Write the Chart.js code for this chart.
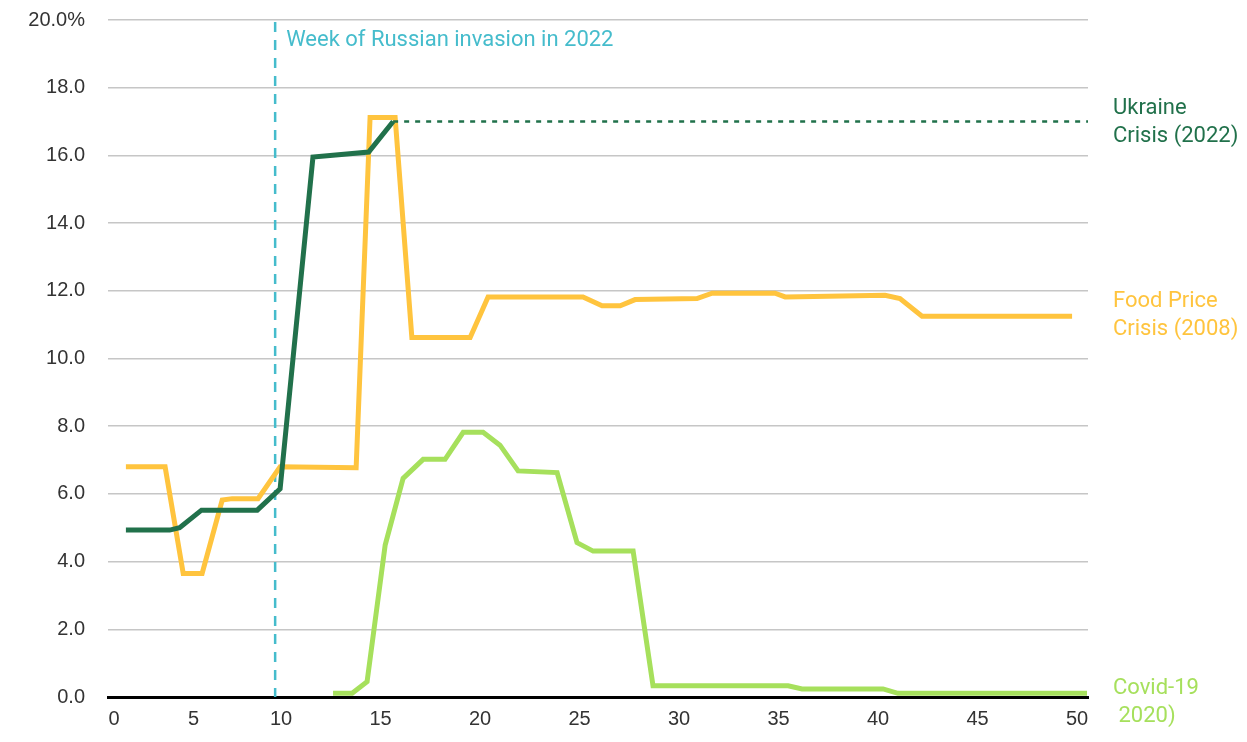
<!DOCTYPE html>
<html>
<head>
<meta charset="utf-8">
<title>Crisis comparison</title>
<script src="https://cdn.jsdelivr.net/npm/chart.js@4/dist/chart.umd.min.js"></script>
<style>
  html, body { margin: 0; padding: 0; background: #fff; }
  canvas { display: block; }
</style>
</head>
<body>
<canvas id="crisisChart" width="1247" height="742"></canvas>
<script>
// Weeks (x) and values (%)
const ukraineWeeks  = [2.2, 4.4, 4.9, 6.0, 8.8, 9.95, 11.6, 14.4, 15.63];
const ukraineValues = [4.93, 4.93, 5.0, 5.52, 5.52, 6.15, 15.95, 16.1, 17.0];

// Dotted continuation of the Ukraine line to the right edge
const ukraineTrendWeeks  = [15.63, 50.55];
const ukraineTrendValues = [17.0, 17.0];

const foodWeeks  = [2.2, 4.17, 5.08, 6.03, 7.04, 7.54, 8.84, 9.95, 13.77, 14.47, 15.73, 16.57, 19.5, 20.4, 25.17, 26.13, 27.04, 27.79, 30.9, 31.66, 34.82, 35.33, 40.35, 41.1, 42.21, 49.75];
const foodValues = [6.8, 6.8, 3.65, 3.65, 5.82, 5.86, 5.86, 6.8, 6.77, 17.12, 17.12, 10.62, 10.62, 11.82, 11.82, 11.56, 11.56, 11.74, 11.77, 11.93, 11.93, 11.82, 11.87, 11.77, 11.25, 11.25];

const covidWeeks  = [12.61, 13.57, 14.32, 15.23, 16.13, 17.14, 18.24, 19.15, 20.15, 21.0, 21.91, 23.87, 24.87, 25.68, 27.69, 28.69, 35.48, 36.18, 40.25, 41.0, 50.5];
const covidValues = [0.11, 0.11, 0.45, 4.49, 6.46, 7.02, 7.02, 7.82, 7.82, 7.44, 6.68, 6.63, 4.56, 4.31, 4.31, 0.33, 0.33, 0.24, 0.24, 0.11, 0.11];

// x-axis tick positions (weeks) and the labels shown under them
const xTickValues = [1.6, 5.6, 10, 15, 20, 25, 30, 35, 40, 45, 50];
const xTickLabels = ['0', '5', '10', '15', '20', '25', '30', '35', '40', '45', '50'];

const invasionWeek = 9.7;
const invasionLabel = 'Week of Russian invasion in 2022';

// Colours
const darkGreen = '#21714b';
const yellow = '#ffc43e';
const lightGreen = '#a6e05c';
const cyan = '#45bccc';

// Helper: pair up weeks and values into {x, y} points
function toPoints(weeks, values) {
  return weeks.map((w, i) => ({ x: w, y: values[i] }));
}

// Right-hand series labels, anchored to a value on the y axis
const seriesLabels = [
  { lines: ['Ukraine', 'Crisis (2022)'], anchor: 16.98, color: darkGreen },
  { lines: ['Food Price', 'Crisis (2008)'], anchor: 11.26, color: yellow },
  { lines: ['Covid-19', ' 2020)'], anchor: -0.15, color: lightGreen }
];

// Plugin for the invasion marker and the series labels
const annotationPlugin = {
  id: 'annotations',
  beforeDatasetsDraw(chart) {
    const { ctx, chartArea, scales: { x } } = chart;
    const px = x.getPixelForValue(invasionWeek);
    ctx.save();
    ctx.strokeStyle = cyan;
    ctx.lineWidth = 2.5;
    ctx.setLineDash([10, 8]);
    ctx.beginPath();
    ctx.moveTo(px, chartArea.top + 2);
    ctx.lineTo(px, chartArea.bottom);
    ctx.stroke();
    ctx.setLineDash([]);
    ctx.fillStyle = cyan;
    ctx.font = '22px Roboto';
    ctx.textBaseline = 'middle';
    ctx.textAlign = 'left';
    ctx.fillText(invasionLabel, px + 11, chartArea.top + 20);
    ctx.restore();
  },
  afterDatasetsDraw(chart) {
    const { ctx, chartArea, scales: { y } } = chart;
    ctx.save();
    ctx.font = '22px Roboto';
    ctx.textBaseline = 'middle';
    ctx.textAlign = 'left';
    seriesLabels.forEach((lab) => {
      const cy = y.getPixelForValue(lab.anchor);
      ctx.fillStyle = lab.color;
      ctx.fillText(lab.lines[0], chartArea.right + 25, cy - 14);
      ctx.fillText(lab.lines[1], chartArea.right + 25, cy + 14);
    });
    ctx.restore();
  }
};

const ctx = document.getElementById('crisisChart').getContext('2d');
new Chart(ctx, {
  type: 'line',
  data: {
    datasets: [
      {
        label: 'Ukraine Crisis (2022)',
        data: toPoints(ukraineWeeks, ukraineValues),
        borderColor: darkGreen,
        borderWidth: 5
      },
      {
        label: 'Ukraine trend',
        data: toPoints(ukraineTrendWeeks, ukraineTrendValues),
        borderColor: darkGreen,
        borderWidth: 2.5,
        borderDash: [5, 6]
      },
      {
        label: 'Food Price Crisis (2008)',
        data: toPoints(foodWeeks, foodValues),
        borderColor: yellow,
        borderWidth: 5
      },
      {
        label: 'Covid-19 (2020)',
        data: toPoints(covidWeeks, covidValues),
        borderColor: lightGreen,
        borderWidth: 5
      }
    ]
  },
  options: {
    responsive: false,
    animation: false,
    layout: { padding: { top: 20, right: 159, left: 0, bottom: 0 } },
    elements: {
      point: { radius: 0, hoverRadius: 0 },
      line: { tension: 0, fill: false }
    },
    plugins: {
      legend: { display: false },
      tooltip: { enabled: false }
    },
    scales: {
      x: {
        type: 'linear',
        min: 1.3,
        max: 50.55,
        afterBuildTicks: (axis) => {
          axis.ticks = xTickValues.map((v) => ({ value: v }));
        },
        afterFit: (scale) => { scale.height = 45; },
        grid: { display: false, drawTicks: false },
        border: { display: true, color: '#000', width: 3 },
        ticks: {
          autoSkip: false,
          maxRotation: 0,
          padding: 10,
          color: '#333',
          font: { family: 'Liberation Sans', size: 20 },
          callback: (value, index) => xTickLabels[index]
        }
      },
      y: {
        min: 0,
        max: 20,
        afterFit: (scale) => {
          scale.width = 108;
          scale.paddingTop = 0;
          scale.paddingBottom = 0;
        },
        border: { display: false },
        grid: {
          drawTicks: false,
          color: (c) => (c.tick && c.tick.value === 0 ? '#000' : '#c6c6c6'),
          lineWidth: (c) => (c.tick && c.tick.value === 0 ? 3 : 1.5)
        },
        ticks: {
          stepSize: 2,
          padding: 23,
          color: '#333',
          font: { family: 'Liberation Sans', size: 20 },
          callback: (value) => (value === 20 ? '20.0%' : value.toFixed(1))
        }
      }
    }
  },
  plugins: [annotationPlugin]
});
</script>
</body>
</html>
